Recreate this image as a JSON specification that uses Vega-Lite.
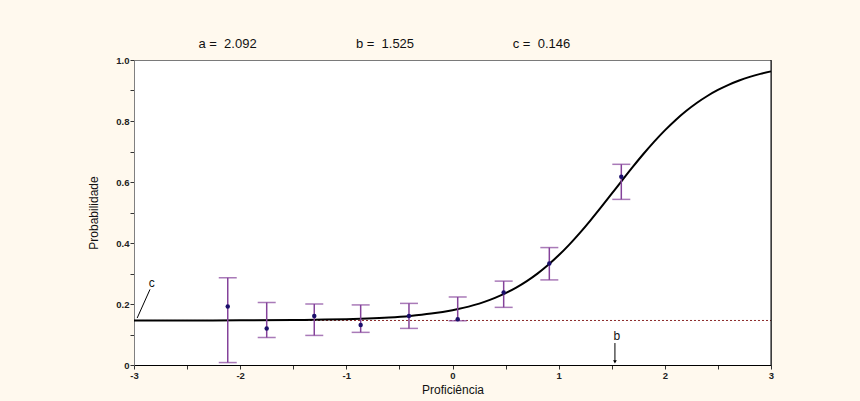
{
  "$schema": "https://vega.github.io/schema/vega-lite/v6.json",
  "width": 637,
  "height": 305,
  "autosize": "none",
  "padding": {"left": 134, "top": 60, "right": 89, "bottom": 36},
  "background": "#fff9ee",
  "config": {
    "view": {"fill": "white", "stroke": "#7a7a7a", "strokeWidth": 1},
    "font": "Liberation Sans",
    "text": {"font": "Liberation Sans"}
  },
  "datasets": {
    "curve": [
      {"x": -3.0, "y": 0.14607}, {"x": -2.5, "y": 0.14619}, {"x": -2.0, "y": 0.14654},
      {"x": -1.5, "y": 0.14752}, {"x": -1.2, "y": 0.14885}, {"x": -1.0, "y": 0.15032},
      {"x": -0.8, "y": 0.15254}, {"x": -0.6, "y": 0.1559}, {"x": -0.4, "y": 0.16096},
      {"x": -0.2, "y": 0.16853}, {"x": 0.0, "y": 0.17976}, {"x": 0.1, "y": 0.18723},
      {"x": 0.2, "y": 0.19627}, {"x": 0.3, "y": 0.20713}, {"x": 0.4, "y": 0.22011},
      {"x": 0.5, "y": 0.23556}, {"x": 0.6, "y": 0.25376}, {"x": 0.7, "y": 0.27504},
      {"x": 0.8, "y": 0.29968}, {"x": 0.9, "y": 0.32782}, {"x": 1.0, "y": 0.35955},
      {"x": 1.1, "y": 0.39477}, {"x": 1.2, "y": 0.43318}, {"x": 1.3, "y": 0.47432},
      {"x": 1.4, "y": 0.51748}, {"x": 1.5, "y": 0.56184}, {"x": 1.6, "y": 0.60643},
      {"x": 1.7, "y": 0.6503}, {"x": 1.8, "y": 0.69257}, {"x": 1.9, "y": 0.7324},
      {"x": 2.0, "y": 0.76927}, {"x": 2.1, "y": 0.80274}, {"x": 2.2, "y": 0.83271},
      {"x": 2.3, "y": 0.85906}, {"x": 2.4, "y": 0.882}, {"x": 2.5, "y": 0.9017},
      {"x": 2.6, "y": 0.91849}, {"x": 2.7, "y": 0.93266}, {"x": 2.8, "y": 0.94456},
      {"x": 2.9, "y": 0.95446}, {"x": 3.0, "y": 0.96269}
    ],
    "points": [
      {"x": -2.117, "y": 0.192, "lo": 0.008, "hi": 0.286},
      {"x": -1.75, "y": 0.12, "lo": 0.09, "hi": 0.205},
      {"x": -1.302, "y": 0.161, "lo": 0.097, "hi": 0.2},
      {"x": -0.865, "y": 0.131, "lo": 0.107, "hi": 0.197},
      {"x": -0.41, "y": 0.161, "lo": 0.12, "hi": 0.202},
      {"x": 0.049, "y": 0.15, "lo": 0.145, "hi": 0.223},
      {"x": 0.482, "y": 0.238, "lo": 0.189, "hi": 0.275},
      {"x": 0.912, "y": 0.333, "lo": 0.279, "hi": 0.385},
      {"x": 1.59, "y": 0.617, "lo": 0.543, "hi": 0.658}
    ],
    "cline": [{"x": -3, "x2": 3, "y": 0.146}],
    "params": [
      {"x": -2.119, "y": 1.052, "label": "a = \u00a02.092"},
      {"x": -0.636, "y": 1.052, "label": "b = \u00a01.525"},
      {"x": 0.838, "y": 1.052, "label": "c = \u00a00.146"}
    ],
    "annotLabels": [
      {"x": -2.833, "y": 0.269, "label": "c"},
      {"x": 1.547, "y": 0.094, "label": "b"}
    ],
    "annotLines": [
      {"x": -2.97, "y": 0.154, "x2": -2.849, "y2": 0.248},
      {"x": 1.53, "y": 0.072, "x2": 1.53, "y2": 0.012}
    ],
    "arrowHead": [{"x": 1.53, "y": 0.01}],
    "rightBorder": [{"x": 3, "y": 0, "y2": 1}]
  },
  "encoding": {
    "x": {
      "field": "x",
      "type": "quantitative",
      "scale": {"domain": [-3, 3], "nice": false, "zero": false},
      "axis": {
        "title": "Proficiência",
        "values": [-3, -2.5, -2, -1.5, -1, -0.5, 0, 0.5, 1, 1.5, 2, 2.5, 3],
        "labelExpr": "datum.value % 1 == 0 ? '' + datum.value : ''",
        "labelFont": "Liberation Sans",
        "labelFontSize": 9.5,
        "labelFontWeight": "bold",
        "labelColor": "#222222",
        "labelPadding": 1,
        "labelFlush": false,
        "tickSize": 4,
        "tickColor": "#333333",
        "domainColor": "#000000",
        "grid": false,
        "titleFont": "Liberation Sans",
        "titleFontSize": 12,
        "titleFontWeight": "normal",
        "titleColor": "#111111",
        "titlePadding": 5
      }
    },
    "y": {
      "field": "y",
      "type": "quantitative",
      "scale": {"domain": [0, 1], "nice": false, "zero": false},
      "axis": {
        "title": "Probabilidade",
        "values": [0, 0.1, 0.2, 0.3, 0.4, 0.5, 0.6, 0.7, 0.8, 0.9, 1],
        "labelExpr": "datum.value == 0 ? '0' : (abs(datum.value * 5 - round(datum.value * 5)) < 0.001 ? format(datum.value, '.1f') : '')",
        "labelFont": "Liberation Sans",
        "labelFontSize": 9.5,
        "labelFontWeight": "bold",
        "labelColor": "#222222",
        "labelPadding": 1,
        "labelFlush": false,
        "tickSize": 4,
        "tickColor": "#333333",
        "domainColor": "#808080",
        "grid": false,
        "titleFont": "Liberation Sans",
        "titleFontSize": 12,
        "titleFontWeight": "normal",
        "titleColor": "#111111",
        "titlePadding": 15
      }
    }
  },
  "layer": [
    {
      "data": {"name": "cline"},
      "mark": {"type": "rule", "color": "#8b2a2a", "strokeWidth": 1, "strokeDash": [2, 2]},
      "encoding": {"x2": {"field": "x2"}}
    },
    {
      "data": {"name": "curve"},
      "mark": {"type": "line", "color": "#000000", "strokeWidth": 2, "interpolate": "monotone"},
      "encoding": {}
    },
    {
      "data": {"name": "points"},
      "mark": {"type": "rule", "color": "#84429a", "strokeWidth": 1.5},
      "encoding": {
        "y": {"field": "lo", "type": "quantitative", "title": "Probabilidade"},
        "y2": {"field": "hi"}
      }
    },
    {
      "data": {"name": "points"},
      "mark": {"type": "tick", "orient": "horizontal", "color": "#84429a", "size": 18, "thickness": 1.5},
      "encoding": {
        "y": {"field": "lo", "type": "quantitative", "title": "Probabilidade"}
      }
    },
    {
      "data": {"name": "points"},
      "mark": {"type": "tick", "orient": "horizontal", "color": "#84429a", "size": 18, "thickness": 1.5},
      "encoding": {
        "y": {"field": "hi", "type": "quantitative", "title": "Probabilidade"}
      }
    },
    {
      "data": {"name": "points"},
      "mark": {"type": "point", "shape": "circle", "filled": true, "color": "#1b0f6b", "size": 20, "opacity": 1},
      "encoding": {}
    },
    {
      "data": {"name": "annotLines"},
      "mark": {"type": "rule", "color": "#000000", "strokeWidth": 1},
      "encoding": {"x2": {"field": "x2"}, "y2": {"field": "y2"}}
    },
    {
      "data": {"name": "arrowHead"},
      "mark": {"type": "point", "shape": "triangle-down", "filled": true, "color": "#000000", "size": 14, "opacity": 1},
      "encoding": {}
    },
    {
      "data": {"name": "annotLabels"},
      "mark": {"type": "text", "fontSize": 12, "color": "#111111", "align": "center", "baseline": "middle"},
      "encoding": {"text": {"field": "label"}}
    },
    {
      "data": {"name": "params"},
      "mark": {"type": "text", "fontSize": 13, "color": "#111111", "align": "center", "baseline": "middle"},
      "encoding": {"text": {"field": "label"}}
    },
    {
      "data": {"name": "rightBorder"},
      "mark": {"type": "rule", "color": "#000000", "strokeWidth": 1},
      "encoding": {"y2": {"field": "y2"}}
    }
  ]
}
